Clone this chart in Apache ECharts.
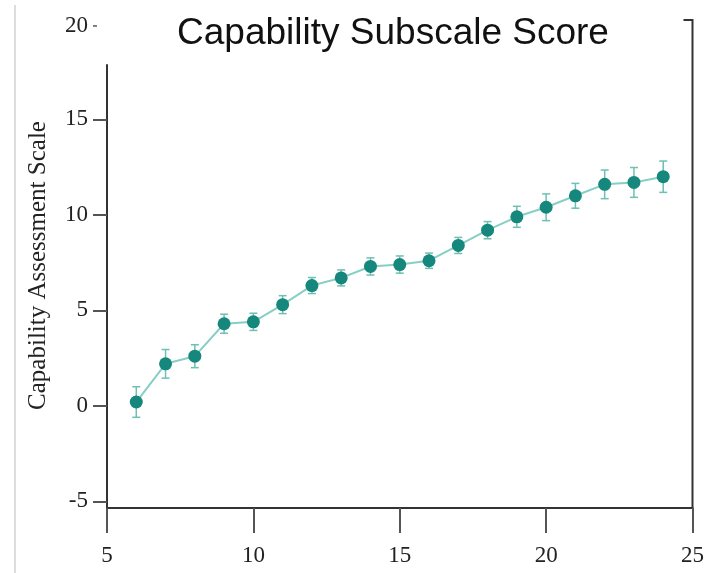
<!DOCTYPE html>
<html>
<head>
<meta charset="utf-8">
<style>
  html, body { margin: 0; padding: 0; background: #fff; }
  #chart { width: 707px; height: 573px; }
</style>
<script src="https://cdn.jsdelivr.net/npm/echarts@6/dist/echarts.min.js"></script>
</head>
<body>
<div id="chart"></div>
<script>
// Data
const weeks = [6, 7, 8, 9, 10, 11, 12, 13, 14, 15, 16, 17, 18, 19, 20, 21, 22, 23, 24];
const scores = [0.2, 2.2, 2.6, 4.3, 4.4, 5.3, 6.3, 6.7, 7.3, 7.4, 7.6, 8.4, 9.2, 9.9, 10.4, 11.0, 11.6, 11.7, 12.0];
const errors = [0.8, 0.75, 0.6, 0.5, 0.45, 0.47, 0.42, 0.42, 0.45, 0.45, 0.4, 0.42, 0.45, 0.55, 0.7, 0.65, 0.75, 0.78, 0.82];
const yTicks = [-5, 0, 5, 10, 15];
const xTicks = [5, 10, 15, 20, 25];

const serif = "'Liberation Serif', 'DejaVu Serif', serif";

const points = weeks.map((w, i) => [w, scores[i]]);
const bars = weeks.map((w, i) => [w, scores[i] - errors[i], scores[i] + errors[i]]);

const chartDom = document.getElementById("chart");
const myChart = echarts.init(chartDom);

const option = {
  animation: false,
  title: {
    text: "Capability Subscale Score",
    left: 388,
    top: 10,
    textAlign: "center",
    textStyle: {
      fontFamily: "'Liberation Sans', Arial, sans-serif",
      fontSize: 37,
      fontWeight: "normal",
      color: "#111",
    },
  },
  grid: { left: 107, right: 12, top: 65, bottom: 65 },
  xAxis: {
    type: "value",
    min: 5,
    max: 25,
    interval: 5,
    splitLine: { show: false },
    axisLine: { onZero: false, lineStyle: { color: "#333", width: 2 } },
    axisTick: { length: 25, lineStyle: { color: "#555", width: 2 } },
    axisLabel: {
      margin: 36,
      fontFamily: serif,
      fontSize: 23,
      color: "#222",
      customValues: xTicks,
    },
  },
  yAxis: {
    type: "value",
    min: -5.35,
    max: 17.85,
    splitLine: { show: false },
    name: "Capability Assessment Scale",
    nameLocation: "middle",
    nameGap: 56,
    nameTextStyle: { fontFamily: serif, fontSize: 25, color: "#222", padding: [0, 0, 0, 42] },
    axisLine: { show: true, onZero: false, lineStyle: { color: "#333", width: 2 } },
    axisTick: { length: 14, lineStyle: { color: "#555", width: 2 }, customValues: yTicks },
    axisLabel: {
      margin: 19,
      fontFamily: serif,
      fontSize: 23,
      color: "#222",
      customValues: yTicks,
    },
  },
  series: [
    {
      type: "custom",
      data: bars,
      z: 1,
      renderItem: (params, api) => {
        const x = api.value(0);
        const lo = api.coord([x, api.value(1)]);
        const hi = api.coord([x, api.value(2)]);
        const cap = 4;
        const style = { stroke: "#6fbfb3", lineWidth: 1.5 };
        return {
          type: "group",
          children: [
            { type: "line", shape: { x1: lo[0], y1: lo[1], x2: hi[0], y2: hi[1] }, style },
            { type: "line", shape: { x1: lo[0] - cap, y1: lo[1], x2: lo[0] + cap, y2: lo[1] }, style },
            { type: "line", shape: { x1: hi[0] - cap, y1: hi[1], x2: hi[0] + cap, y2: hi[1] }, style },
          ],
        };
      },
    },
    {
      type: "line",
      data: points,
      z: 2,
      symbol: "circle",
      symbolSize: 13,
      lineStyle: { color: "#86cfc5", width: 2 },
      itemStyle: { color: "#15877c" },
    },
  ],
};

myChart.setOption(option);

// frame pieces outside the grid: the "20" label above the axis and the right bracket
const p20 = myChart.convertToPixel({ yAxisIndex: 0 }, 20);
const right = myChart.convertToPixel({ xAxisIndex: 0 }, 25);
const bottom = myChart.convertToPixel({ yAxisIndex: 0 }, -5.35);
myChart.setOption({
  graphic: [
    {
      type: "text",
      x: 88,
      y: p20 + 2,
      style: {
        text: "20",
        font: "23px " + serif,
        fill: "#222",
        align: "right",
        verticalAlign: "middle",
      },
    },
    {
      type: "line",
      shape: { x1: 93, y1: p20 + 2, x2: 97, y2: p20 + 2 },
      style: { stroke: "#555", lineWidth: 1.5 },
    },
    {
      type: "polyline",
      shape: { points: [[right - 9, 20], [right, 20], [right, bottom]] },
      style: { stroke: "#333", lineWidth: 2, fill: null },
    },
    {
      type: "line",
      shape: { x1: 15, y1: 5, x2: 15, y2: 573 },
      style: { stroke: "#ddd", lineWidth: 2 },
    },
  ],
});

window.addEventListener("resize", () => myChart.resize());
</script>
</body>
</html>
